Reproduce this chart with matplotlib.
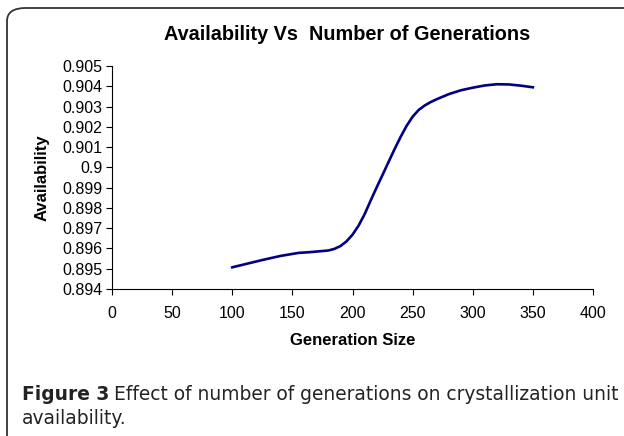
import matplotlib
matplotlib.use("Agg")
import matplotlib.pyplot as plt
from matplotlib.patches import FancyBboxPatch

# values
gen_size = [100, 125, 140, 155, 165, 180, 185, 190, 195, 200, 205, 210,
            215, 220, 225, 230, 235, 240, 245, 250, 255, 260, 265, 270,
            280, 290, 300, 310, 320, 330, 340, 350]
availability = [0.89507, 0.89543, 0.89563, 0.89578, 0.89582, 0.89590,
                0.89598, 0.89612, 0.89635, 0.89668, 0.89712, 0.89768,
                0.89835, 0.89900, 0.89963, 0.90027, 0.90090, 0.90150,
                0.90205, 0.90250, 0.90283, 0.90305, 0.90322, 0.90336,
                0.90361, 0.90380, 0.90393, 0.90404, 0.90410, 0.90409,
                0.90403, 0.90395]

x_ticks = [0, 50, 100, 150, 200, 250, 300, 350, 400]
y_ticks = [0.894, 0.895, 0.896, 0.897, 0.898, 0.899, 0.9,
           0.901, 0.902, 0.903, 0.904, 0.905]
y_tick_labels = ["0.894", "0.895", "0.896", "0.897", "0.898", "0.899",
                 "0.9", "0.901", "0.902", "0.903", "0.904", "0.905"]

plt.rcParams["font.family"] = ["Liberation Sans", "DejaVu Sans"]

W, H = 624, 436
fig = plt.figure(figsize=(W / 100, H / 100), dpi=100)

# rounded frame around the figure panel
frame = FancyBboxPatch((7 / W, -0.2), 1.2, 1.2 - 8 / H,
                       boxstyle="round,pad=0,rounding_size=0.03",
                       transform=fig.transFigure, fill=False,
                       edgecolor="#333333", linewidth=1.3)
fig.patches.append(frame)

ax = fig.add_axes([112 / W, 1 - 289 / H, (593 - 112) / W, (289 - 66) / H])
ax.plot(gen_size, availability, color="#000080", linewidth=1.9)

ax.set_xlim(0, 400)
ax.set_ylim(0.894, 0.905)
ax.set_xticks(x_ticks)
ax.set_yticks(y_ticks)
ax.set_yticklabels(y_tick_labels)
ax.tick_params(direction="out", length=4, width=0.8, labelsize=11.5,
               colors="black")
ax.tick_params(axis="x", pad=8)
ax.tick_params(axis="y", pad=3)
for side in ["top", "right"]:
    ax.spines[side].set_visible(False)
for side in ["left", "bottom"]:
    ax.spines[side].set_linewidth(0.8)

ax.set_xlabel("Generation Size", fontsize=12, fontweight="bold", labelpad=9)
ax.set_ylabel("Availability", fontsize=12, fontweight="bold", labelpad=9)

fig.text(347 / W, 1 - 34 / H, "Availability Vs  Number of Generations",
         ha="center", va="center", fontsize=14.3, fontweight="bold")

cap_font = ["DejaVu Sans"]
cap_size = 13.4
t = fig.text(22 / W, 1 - 394 / H, "Figure 3", ha="left", va="center",
             fontsize=cap_size, fontweight="bold", family=cap_font,
             color="#222222")
fig.canvas.draw()
bb = t.get_window_extent()
fig.text(bb.x1 / W + 5 / W, 1 - 394 / H,
         "Effect of number of generations on crystallization unit",
         ha="left", va="center", fontsize=cap_size, family=cap_font,
         color="#222222")
fig.text(22 / W, 1 - 418 / H, "availability.", ha="left", va="center",
         fontsize=cap_size, family=cap_font, color="#222222")

fig.savefig("out.png", dpi=100)
